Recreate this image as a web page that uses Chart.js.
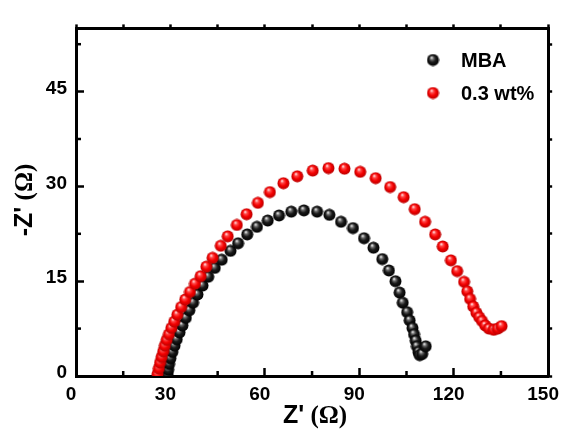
<!DOCTYPE html>
<html lang="en">
<head>
  <meta charset="UTF-8">
  <title>Nyquist plot</title>
  <style>
    body {
      margin: 0;
      background-color: #fff;
    }
  </style>
</head>
<body>
  <canvas id="chart" width="579" height="429"></canvas>

  <script src="https://cdn.jsdelivr.net/npm/chart.js"></script>
  <script>
    // Z' and -Z'' values
    const mbaX = [29.1, 29.3, 29.6, 30.0, 30.6, 31.3, 32.0, 32.9, 33.8, 34.9, 36.0, 37.2, 38.6, 40.2, 42.0, 44.1, 46.3, 49.1, 51.5, 54.4, 57.5, 60.9, 64.5, 68.4, 72.4, 76.6, 80.5, 84.2, 88.0, 91.5, 94.5, 97.3, 99.4, 101.5, 102.8, 103.8, 105.2, 106.0, 106.9, 107.4, 107.9, 108.3, 108.8, 109.2, 110.0, 111.1];
    const mbaY = [0.3, 1.0, 1.9, 2.8, 3.8, 4.8, 5.8, 6.9, 8.0, 9.2, 10.4, 11.6, 12.9, 14.3, 15.7, 17.1, 18.4, 19.8, 21.0, 22.4, 23.6, 24.6, 25.4, 26.0, 26.2, 26.0, 25.5, 24.4, 23.4, 21.8, 20.3, 18.5, 16.7, 15.0, 13.2, 11.6, 10.1, 8.8, 7.6, 6.6, 5.6, 4.7, 3.8, 3.3, 3.5, 4.7];
    const wtX = [25.9, 26.3, 26.7, 27.2, 27.7, 28.2, 28.8, 29.5, 30.3, 31.2, 32.2, 33.4, 34.7, 36.2, 37.8, 39.6, 41.4, 43.4, 46.0, 48.2, 51.1, 54.2, 57.8, 61.6, 65.9, 70.3, 75.2, 80.2, 85.3, 90.3, 95.2, 99.8, 104.1, 107.6, 110.9, 114.1, 116.5, 119.1, 121.1, 123.3, 124.3, 125.2, 126.2, 127.2, 128.1, 129.0, 130.0, 131.2, 132.7, 134.0, 135.2];
    const wtY = [0.3, 1.2, 2.1, 3.0, 3.9, 4.8, 5.7, 6.6, 7.6, 8.6, 9.7, 10.9, 12.1, 13.3, 14.6, 15.8, 17.3, 18.7, 20.6, 22.1, 23.9, 25.6, 27.4, 29.1, 30.5, 31.6, 32.5, 32.9, 32.8, 32.3, 31.3, 29.9, 28.3, 26.4, 24.4, 22.4, 20.5, 18.3, 16.6, 14.9, 13.4, 12.2, 11.0, 10.0, 9.3, 8.7, 8.0, 7.5, 7.3, 7.5, 7.9];

    const seriesNames = ['MBA', '0.3 wt%'];
    const xTicks = [0, 30, 60, 90, 120, 150];
    const yTicks = [0, 15, 30, 45];
    const xTopTicks = [0, 15, 30, 45, 60, 75, 90, 105, 120, 135, 150];
    const yRightTicks = [0, 7.5, 15, 22.5, 30, 37.5, 45, 52.5];
    const xRange = [0, 150];
    const yRange = [0, 55];

    // little shaded balls, like the original markers
    function makeBall(stops) {
      const r = 6;
      const c = document.createElement('canvas');
      c.width = 2 * r + 1;
      c.height = 2 * r + 1;
      const g = c.getContext('2d');
      const cx = r + 0.5, cy = r + 0.5;
      const grad = g.createRadialGradient(cx - 1.5, cy - 2.5, 0.3, cx, cy, r);
      stops.forEach(s => grad.addColorStop(s[0], s[1]));
      g.fillStyle = grad;
      g.beginPath();
      g.arc(cx, cy, r, 0, Math.PI * 2);
      g.fill();
      return c;
    }
    const blackBall = makeBall([[0, '#f0f0f0'], [0.25, '#6a6a6a'], [0.55, '#1a1a1a'], [1, '#000']]);
    const redBall = makeBall([[0, '#ffe6e6'], [0.25, '#ff4a4a'], [0.6, '#f40000'], [1, '#b80000']]);

    const toPts = (xs, ys) => xs.map((x, i) => ({ x: x, y: ys[i] }));

    // minor ticks, axis titles and legend
    const extras = {
      id: 'extras',
      afterDraw(chart) {
        const ctx = chart.ctx;
        const xs = chart.scales.x, ys = chart.scales.y;
        const L = xs.getPixelForValue(xRange[0]);
        const B = ys.getPixelForValue(yRange[0]);
        ctx.save();
        ctx.fillStyle = '#000';
        for (let i = 0; i < xTicks.length - 1; i++) {
          const m = xs.getPixelForValue((xTicks[i] + xTicks[i + 1]) / 2);
          ctx.fillRect(m - 1.25, B - 5, 2.5, 5);
        }
        for (let i = 0; i < yTicks.length; i++) {
          const m = ys.getPixelForValue(yTicks[i] + 7.5);
          ctx.fillRect(L, m - 1.25, 5, 2.5);
        }

        ctx.textBaseline = 'alphabetic';
        const sans = 'bold 25px Arial, "Liberation Sans", sans-serif';
        const serif = 'bold 25px "Liberation Serif", "Times New Roman", serif';
        function twoPart(t1, t2, cx, y) {
          ctx.font = sans;
          const w1 = ctx.measureText(t1).width;
          ctx.font = serif;
          const w2 = ctx.measureText(t2).width;
          const x0 = cx - (w1 + w2) / 2;
          ctx.textAlign = 'left';
          ctx.font = sans;
          ctx.fillText(t1, x0, y);
          ctx.font = serif;
          ctx.fillText(t2, x0 + w1, y);
        }
        twoPart("Z'", ' (\u03A9)', 315, 423);
        ctx.save();
        ctx.translate(32, 200);
        ctx.rotate(-Math.PI / 2);
        twoPart("-Z'", ' (\u03A9)', 0, 0);
        ctx.restore();

        const balls = [blackBall, redBall];
        const rows = [60, 93];
        ctx.font = 'bold 20px Arial, "Liberation Sans", sans-serif';
        ctx.textAlign = 'left';
        ctx.textBaseline = 'middle';
        for (let i = 0; i < seriesNames.length; i++) {
          ctx.drawImage(balls[i], 433 - balls[i].width / 2, rows[i] - balls[i].height / 2);
          ctx.fillText(seriesNames[i], 461, rows[i] + 1);
        }
        ctx.restore();
      }
    };

    const tickFont = { family: 'Arial, "Liberation Sans", sans-serif', weight: 'bold', size: 19 };
    const axisBorder = { display: true, width: 3, color: '#000' };
    const inTicks = { display: true, drawOnChartArea: false, drawTicks: true, tickLength: -8, tickWidth: 2.5, tickColor: '#000' };
    const outTicks = { display: true, drawOnChartArea: false, drawTicks: true, tickLength: 4, tickWidth: 2.5, tickColor: '#000' };

    new Chart(document.getElementById('chart'), {
      type: 'scatter',
      data: {
        datasets: [
          {
            label: seriesNames[0],
            data: toPts(mbaX, mbaY),
            xAxisID: 'x',
            yAxisID: 'y',
            pointStyle: blackBall,
            pointRadius: 6,
            showLine: false,
            order: 2
          },
          {
            label: seriesNames[1],
            data: toPts(wtX, wtY),
            xAxisID: 'x',
            yAxisID: 'y',
            pointStyle: redBall,
            pointRadius: 6,
            showLine: false,
            order: 1
          }
        ]
      },
      options: {
        responsive: false,
        animation: false,
        layout: { padding: 0 },
        plugins: {
          legend: { display: false },
          tooltip: { enabled: false }
        },
        scales: {
          x: {
            type: 'linear',
            position: 'bottom',
            min: xRange[0],
            max: xRange[1],
            grid: inTicks,
            border: axisBorder,
            afterBuildTicks: s => { s.ticks = xTicks.map(v => ({ value: v })); },
            afterFit: s => { s.height = 53; },
            ticks: { font: tickFont, color: '#000', padding: 15, labelOffset: -5, maxRotation: 0 }
          },
          x2: {
            type: 'linear',
            position: 'top',
            min: xRange[0],
            max: xRange[1],
            grid: outTicks,
            border: axisBorder,
            afterBuildTicks: s => { s.ticks = xTopTicks.map(v => ({ value: v })); },
            afterFit: s => { s.height = 16; },
            ticks: { display: false }
          },
          y: {
            type: 'linear',
            position: 'left',
            min: yRange[0],
            max: yRange[1],
            grid: inTicks,
            border: axisBorder,
            afterBuildTicks: s => { s.ticks = yTicks.map(v => ({ value: v })); },
            afterFit: s => { s.width = 76; },
            ticks: { font: tickFont, color: '#000', padding: 17, labelOffset: -3 }
          },
          y2: {
            type: 'linear',
            position: 'right',
            min: yRange[0],
            max: yRange[1],
            grid: outTicks,
            border: axisBorder,
            afterBuildTicks: s => { s.ticks = yRightTicks.map(v => ({ value: v })); },
            afterFit: s => { s.width = 11; },
            ticks: { display: false }
          }
        }
      },
      plugins: [extras]
    });
  </script>
</body>
</html>
